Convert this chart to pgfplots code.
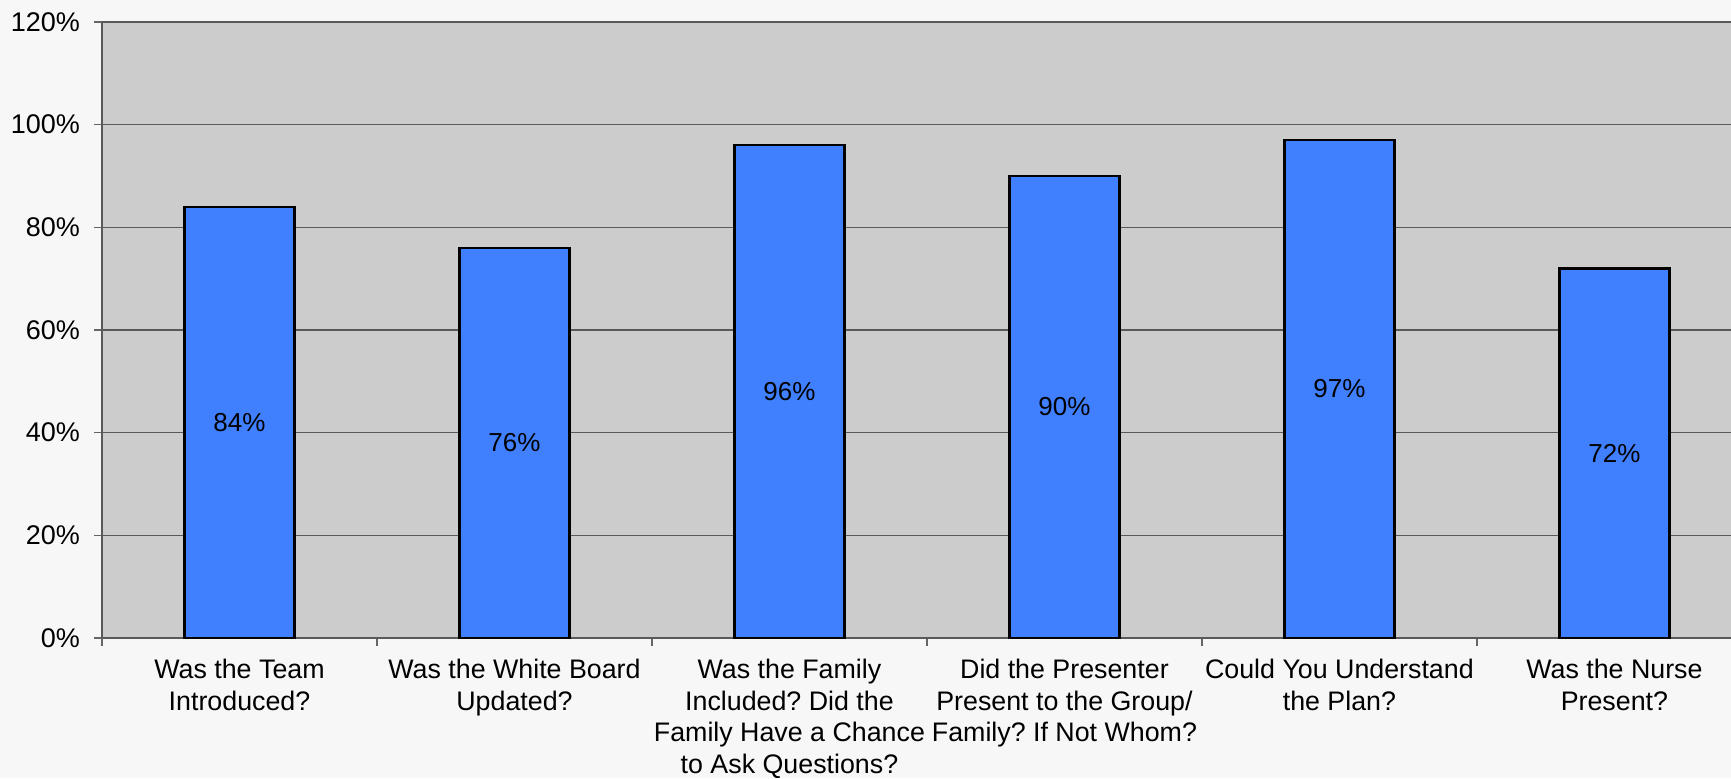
\documentclass[border=0pt]{standalone}
\usepackage{pgfplots}
\pgfplotsset{compat=1.18}
\usepackage{pgfplotstable}
\usepackage{fontspec}
\setmainfont{Liberation Sans}
\frenchspacing
\definecolor{barblue}{RGB}{64,128,255}
\definecolor{plotbg}{RGB}{204,204,204}
\definecolor{pagebg}{RGB}{247,247,247}
\pgfplotstableread{
x v
0 84
1 76
2 96
3 90
4 97
5 72
}\datatable
\begin{document}
\begin{tikzpicture}
\fill[pagebg] (-51pt,-70pt) rectangle (814.5pt,319pt);
\begin{axis}[
  name=ax,
  scale only axis,
  width=814.5pt, height=308pt,
  xmin=-0.5, xmax=5.424,
  ymin=0, ymax=120,
  axis lines*=left,
  axis line style={draw=black!65, line width=0.8pt},
  axis background/.style={fill=plotbg},
  /pgf/number format/assume math mode=true,
  ytick={0,20,...,120},
  yticklabels={0\%,20\%,40\%,60\%,80\%,100\%,120\%},
  ymajorgrids,
  major grid style={draw=black!65, line width=0.7pt},
  xtick={-0.5,0.5,1.5,2.5,3.5,4.5},
  xticklabels={{Was the Team\\Introduced?},{Was the White Board\\Updated?},{Was the Family\\Included? Did the\\Family Have a Chance\\to Ask Questions?},{Did the Presenter\\Present to the Group/\\Family? If Not Whom?},{Could You Understand\\the Plan?},{Was the Nurse\\Present?}},
  xticklabel style={xshift=68.75pt, yshift=-3pt, align=center, font=\fontsize{13.4}{15.8}\selectfont},
  yticklabel style={xshift=-3.5pt, font=\fontsize{13.5}{15}\selectfont},
  tick align=outside,
  major tick length=4pt,
  tick style={draw=black!60, line width=0.6pt},
  clip=false,
]
\addplot[ybar, bar width=0.4, fill=barblue, draw=black, line width=1.2pt] table[x=x, y=v] {\datatable};
\addplot[draw=none, mark=none, point meta=explicit,
  nodes near coords={\pgfmathprintnumber{\pgfplotspointmeta}\%},
  every node near coord/.append style={anchor=center, font=\fontsize{13}{15}\selectfont, text=black}]
  table[x=x, y expr=\thisrow{v}/2, meta=v] {\datatable};
\end{axis}
\pgfresetboundingbox
\useasboundingbox (-51pt,-70pt) rectangle (814.5pt,319pt);
\end{tikzpicture}
\end{document}
